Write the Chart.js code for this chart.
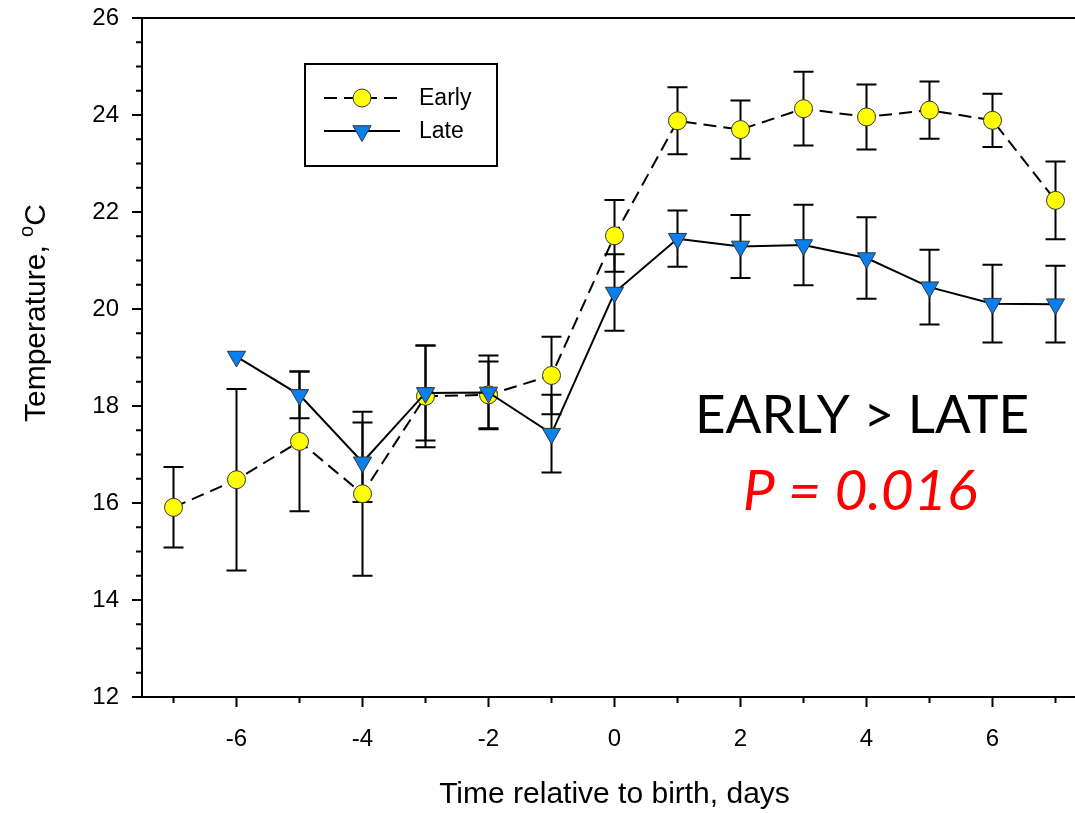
<!DOCTYPE html>
<html>
<head>
<meta charset="utf-8">
<script src="https://cdn.jsdelivr.net/npm/chart.js@4"></script>
<style>
  body { margin: 0; overflow: hidden; background: #fff; }
  #wrap { width: 1100px; height: 813px; }
</style>
</head>
<body>
<div id="wrap"><canvas id="grafica" width="1100" height="813"></canvas></div>
<script>
// datos
const days = [-7, -6, -5, -4, -3, -2, -1, 0, 1, 2, 3, 4, 5, 6, 7];
const early = [15.91, 16.48, 17.27, 16.19, 18.20, 18.23, 18.63, 21.51, 23.88, 23.70, 24.13, 23.96, 24.10, 23.89, 22.24];
const earlyErr = [0.83, 1.87, 1.44, 1.69, 1.05, 0.69, 0.80, 0.74, 0.69, 0.60, 0.76, 0.67, 0.59, 0.55, 0.80];
const late = [null, 19.02, 18.23, 16.84, 18.27, 18.28, 17.43, 20.34, 21.45, 21.29, 21.32, 21.05, 20.45, 20.11, 20.10];
const lateErr = [null, null, 0.48, 0.82, 0.98, 0.76, 0.80, 0.79, 0.58, 0.65, 0.83, 0.84, 0.77, 0.80, 0.79];
const yTicks = [12, 14, 16, 18, 20, 22, 24, 26];
const xTicks = [-6, -4, -2, 0, 2, 4, 6];

Chart.defaults.font.family = '"Liberation Sans", Arial, sans-serif';
Chart.defaults.color = '#000';

const toPoints = (vals) => days.map((d, i) => ({ x: d, y: vals[i] }));

const YELLOW = '#FFFF00';
const BLUE = '#0A80F0';

// barras de error, ejes y leyenda
const extras = {
  id: 'extras',
  beforeDatasetsDraw(chart) {
    const ctx = chart.ctx;
    const xs = chart.scales.x, ys = chart.scales.y;
    ctx.save();
    ctx.strokeStyle = '#000';
    ctx.lineWidth = 2;
    const bars = (vals, errs) => {
      vals.forEach((v, i) => {
        if (v == null || !errs[i]) return;
        const px = xs.getPixelForValue(days[i]);
        const top = ys.getPixelForValue(v + errs[i]);
        const bot = ys.getPixelForValue(v - errs[i]);
        ctx.beginPath();
        ctx.moveTo(px, top); ctx.lineTo(px, bot);
        ctx.moveTo(px - 10, top); ctx.lineTo(px + 10, top);
        ctx.moveTo(px - 10, bot); ctx.lineTo(px + 10, bot);
        ctx.stroke();
      });
    };
    bars(early, earlyErr);
    bars(late, lateErr);
    ctx.restore();
  },
  afterDraw(chart) {
    const ctx = chart.ctx;
    const a = chart.chartArea;
    const xs = chart.scales.x, ys = chart.scales.y;
    ctx.save();
    ctx.strokeStyle = '#000';
    ctx.lineWidth = 2;
    ctx.strokeRect(a.left, a.top, a.right - a.left, a.bottom - a.top);

    // marcas de los ejes
    ctx.beginPath();
    ys.ticks.forEach(t => {
      const py = ys.getPixelForValue(t.value);
      const len = (t.value % 2 === 0) ? 10 : 6;
      ctx.moveTo(a.left, py); ctx.lineTo(a.left - len, py);
    });
    xs.ticks.forEach(t => {
      const px = xs.getPixelForValue(t.value);
      const len = (t.value % 2 === 0) ? 10 : 6;
      ctx.moveTo(px, a.bottom); ctx.lineTo(px, a.bottom + len);
    });
    ctx.stroke();

    // titulo eje y con superindice
    ctx.translate(45, 422);
    ctx.rotate(-Math.PI / 2);
    ctx.fillStyle = '#000';
    ctx.textBaseline = 'alphabetic';
    ctx.textAlign = 'left';
    ctx.font = '30px "Liberation Sans", Arial, sans-serif';
    let w = ctx.measureText('Temperature, ').width;
    ctx.fillText('Temperature, ', 0, 0);
    ctx.font = '20px "Liberation Sans", Arial, sans-serif';
    ctx.fillText('o', w, -12);
    w += ctx.measureText('o').width;
    ctx.font = '30px "Liberation Sans", Arial, sans-serif';
    ctx.fillText('C', w, 0);
    ctx.setTransform(1, 0, 0, 1, 0, 0);

    // leyenda
    ctx.lineWidth = 2;
    ctx.strokeRect(305, 64, 192, 102);
    ctx.setLineDash([13, 7]);
    ctx.beginPath(); ctx.moveTo(324, 98); ctx.lineTo(400, 98); ctx.stroke();
    ctx.setLineDash([]);
    ctx.beginPath(); ctx.moveTo(324, 131); ctx.lineTo(400, 131); ctx.stroke();
    ctx.lineWidth = 1;
    ctx.strokeStyle = '#333';
    ctx.fillStyle = YELLOW;
    Chart.helpers.drawPoint(ctx, { pointStyle: 'circle', radius: 9, rotation: 0, borderWidth: 1 }, 362, 98);
    ctx.fillStyle = BLUE;
    Chart.helpers.drawPoint(ctx, { pointStyle: 'triangle', radius: 10.5, rotation: 180, borderWidth: 1 }, 362, 131);
    ctx.fillStyle = '#000';
    ctx.font = '23px "Liberation Sans", Arial, sans-serif';
    ctx.textBaseline = 'middle';
    ctx.fillText('Early', 419, 99);
    ctx.fillText('Late', 419, 132);

    // anotacion
    ctx.textAlign = 'center';
    ctx.textBaseline = 'alphabetic';
    ctx.font = '53px Lato, "Open Sans", sans-serif';
    ctx.fillText('EARLY > LATE', 862, 433);
    ctx.fillStyle = '#FF0000';
    ctx.font = 'italic 57px Lato, "Open Sans", sans-serif';
    ctx.fillText('P = 0.016', 860, 510);
    ctx.restore();
  }
};

const ctxG = document.getElementById('grafica').getContext('2d');
new Chart(ctxG, {
  type: 'line',
  data: {
    datasets: [{
      label: 'Early',
      data: toPoints(early),
      borderColor: '#000',
      borderWidth: 2,
      borderDash: [13, 7],
      pointStyle: 'circle',
      pointRadius: 9,
      pointBackgroundColor: YELLOW,
      pointBorderColor: '#333',
      pointBorderWidth: 1,
      order: 2
    }, {
      label: 'Late',
      data: toPoints(late),
      borderColor: '#000',
      borderWidth: 2,
      pointStyle: 'triangle',
      rotation: 180,
      pointRadius: 10.5,
      pointBackgroundColor: BLUE,
      pointBorderColor: '#333',
      pointBorderWidth: 1,
      order: 1
    }]
  },
  options: {
    responsive: false,
    animation: false,
    layout: { padding: { top: 18, right: 13, left: 0, bottom: 0 } },
    plugins: { legend: { display: false }, tooltip: { enabled: false } },
    scales: {
      x: {
        type: 'linear',
        min: -7.5,
        max: 7.5,
        grid: { display: false, drawTicks: false },
        border: { display: false },
        ticks: {
          padding: 28,
          font: { size: 24 },
          maxRotation: 0,
          autoSkip: false,
          callback: (v) => xTicks.includes(v) ? String(v) : ''
        },
        afterBuildTicks: (s) => { s.ticks = days.map(v => ({ value: v })); },
        title: {
          display: true,
          text: 'Time relative to birth, days',
          font: { size: 30 },
          padding: { top: 14, bottom: 0 }
        },
        afterFit: (s) => {
          s.height = 116;
          s.paddingLeft = 0; s.paddingRight = 0;
        }
      },
      y: {
        min: 12,
        max: 26,
        grid: { display: false, drawTicks: false },
        border: { display: false },
        ticks: {
          stepSize: 0.5,
          padding: 23,
          font: { size: 24 },
          autoSkip: false,
          callback: (v) => yTicks.includes(v) ? String(v) : ''
        },
        afterFit: (s) => {
          s.width = 142;
          s.paddingTop = 0; s.paddingBottom = 0;
        }
      }
    }
  },
  plugins: [extras]
});
</script>
</body>
</html>
